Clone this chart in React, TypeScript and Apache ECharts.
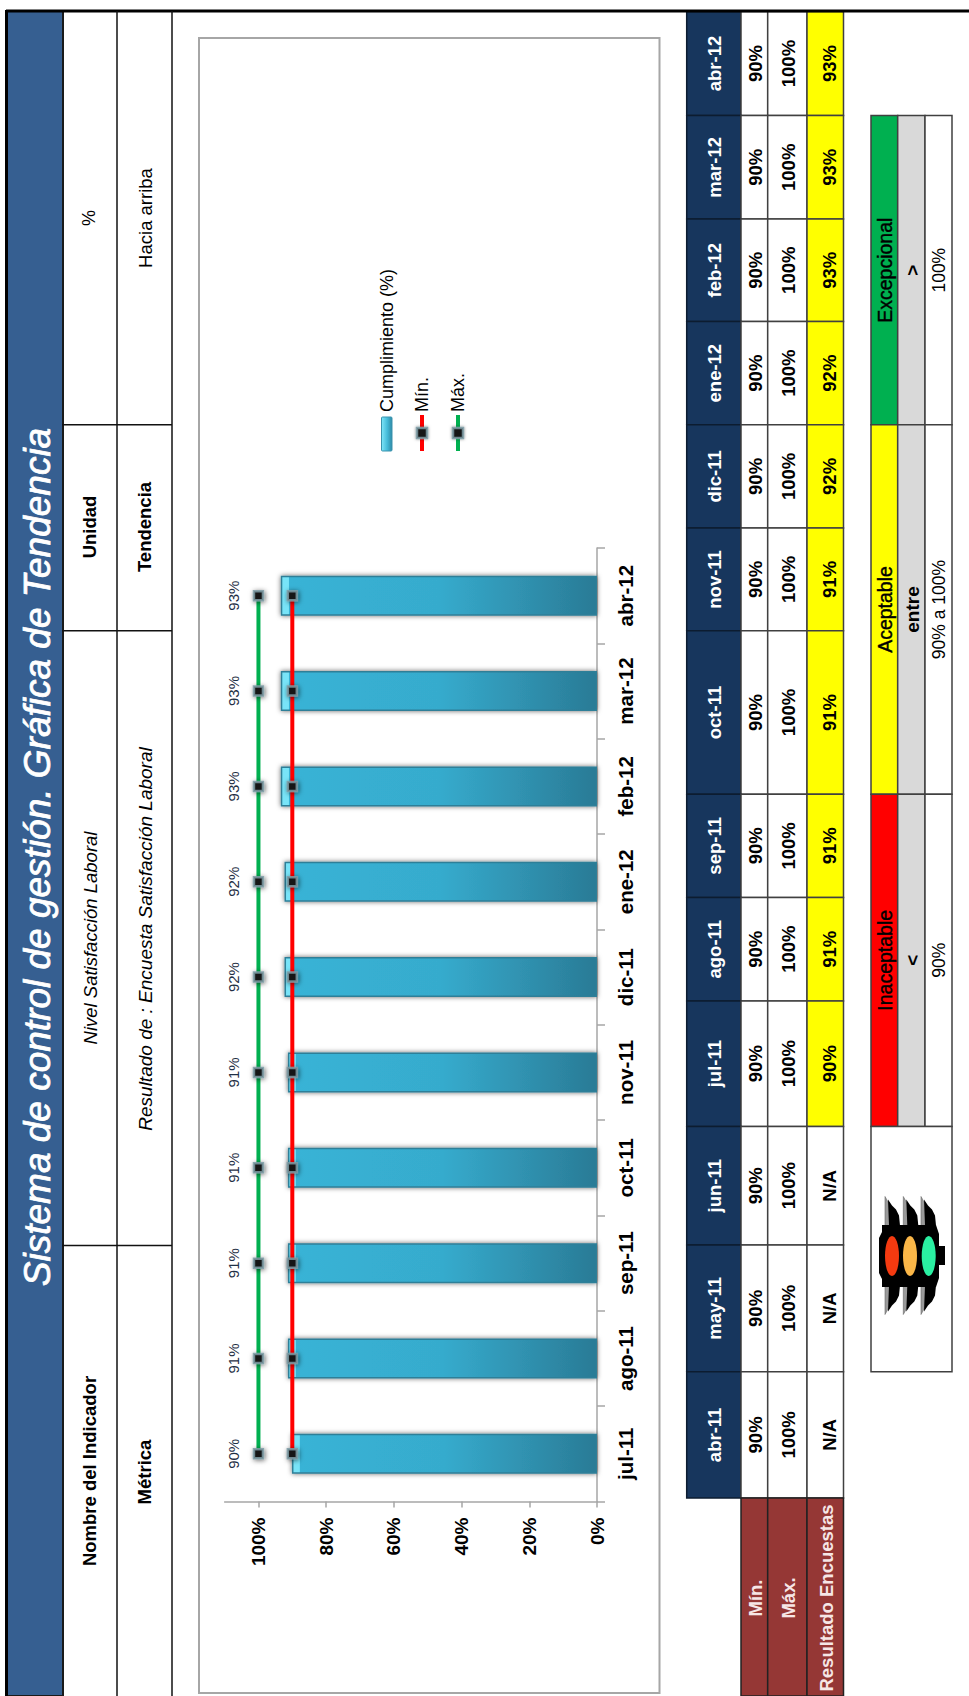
import React, { useEffect, useRef } from "react";
import * as echarts from "echarts";

const chartMonths = ["jul-11", "ago-11", "sep-11", "oct-11", "nov-11", "dic-11", "ene-12", "feb-12", "mar-12", "abr-12"];
const cumplimiento = [90.1, 91.3, 91.3, 91.3, 91.3, 92.3, 92.3, 93.4, 93.4, 93.4];
const minimo = [90, 90, 90, 90, 90, 90, 90, 90, 90, 90];
const maximo = [100, 100, 100, 100, 100, 100, 100, 100, 100, 100];
const valueTicks = [0, 20, 40, 60, 80, 100];

const tableMonths = ["abr-12", "mar-12", "feb-12", "ene-12", "dic-11", "nov-11", "oct-11", "sep-11", "ago-11", "jul-11", "jun-11", "may-11", "abr-11"];
const tableMin = ["90%", "90%", "90%", "90%", "90%", "90%", "90%", "90%", "90%", "90%", "90%", "90%", "90%"];
const tableMax = ["100%", "100%", "100%", "100%", "100%", "100%", "100%", "100%", "100%", "100%", "100%", "100%", "100%"];
const tableResult = ["93%", "93%", "93%", "92%", "92%", "91%", "91%", "91%", "91%", "90%", "N/A", "N/A", "N/A"];

const FONT = "'Liberation Sans', Arial, sans-serif";
const R = Math.PI / 2;

function txt(text: string, x: number, y: number, o: any = {}) {
  const color = o.color ?? "#000";
  return {
    type: "text", x, y, rotation: R, silent: true, z: o.z ?? 5,
    style: {
      text, fill: color, fontFamily: FONT, fontSize: o.size ?? 18.5,
      fontWeight: o.weight ?? "normal", fontStyle: o.style ?? "normal",
      align: o.align ?? "center", verticalAlign: "middle",
      stroke: o.heavy ? color : undefined, lineWidth: o.heavy ?? 0,
    },
  };
}
function box(x0: number, y0: number, x1: number, y1: number, fill: string, stroke = "#404040", lw = 1.5) {
  return {
    type: "rect", silent: true, z: 2,
    shape: { x: x0, y: y0, width: x1 - x0, height: y1 - y0 },
    style: { fill, stroke, lineWidth: lw },
  };
}
function seg(x0: number, y0: number, x1: number, y1: number, stroke = "#111", lw = 1.5) {
  return { type: "line", silent: true, z: 3, shape: { x1: x0, y1: y0, x2: x1, y2: y1 }, style: { stroke, lineWidth: lw } };
}

function buildGraphics() {
  const els: any[] = [];
  // Page frame and title band
  els.push(box(7, 11, 63, 1696, "#365F91", "#1a1a1a", 2));
  els.push(seg(6, 11, 969, 11, "#000", 3));
  els.push(seg(6.5, 10, 6.5, 1696, "#000", 3));
  els.push(seg(117, 11, 117, 1696));
  els.push(seg(172, 11, 172, 1696));
  [424.8, 630.8, 1245.5].forEach((y) => els.push(seg(62, y, 172, y)));
  els.push(txt("Sistema de control de gestión. Gráfica de Tendencia", 37, 857, { size: 37, style: "italic", color: "#fff", heavy: 0.8 }));

  els.push(txt("Nombre del Indicador", 89, 1471, { weight: "bold" }));
  els.push(txt("Métrica", 144, 1472, { weight: "bold" }));
  els.push(txt("Nivel Satisfacción Laboral", 90, 938, { style: "italic", size: 18.5 }));
  els.push(txt("Resultado de : Encuesta Satisfacción Laboral", 145, 939, { style: "italic", size: 19 }));
  els.push(txt("Unidad", 89, 527, { weight: "bold" }));
  els.push(txt("Tendencia", 144, 527, { weight: "bold" }));
  els.push(txt("%", 89, 218, { size: 18 }));
  els.push(txt("Hacia arriba", 145, 218, { size: 18.5 }));

  // Chart frame
  els.push({ type: "rect", silent: true, z: 1, shape: { x: 199, y: 38, width: 460.5, height: 1655 }, style: { fill: "none", stroke: "#A6A6A6", lineWidth: 2 } });

  // Legend
  els.push({
    type: "rect", silent: true, z: 5, shape: { x: 381.5, y: 417, width: 10.5, height: 34, r: 1 },
    style: {
      fill: new echarts.graphic.LinearGradient(0, 0, 1, 0, [
        { offset: 0, color: "#7FE6F8" }, { offset: 0.55, color: "#45BBD9" }, { offset: 1, color: "#2F8AA6" },
      ]),
      stroke: "#3A93AE", lineWidth: 1,
    },
  });
  els.push(txt("Cumplimiento (%)", 387, 412, { align: "left", size: 18 }));
  [[422, "Mín.", "#FF0000"], [458, "Máx.", "#00B050"]].forEach(([x, label, color]: any) => {
    els.push(seg(x, 415, x, 451, color, 4));
    els.push({
      type: "rect", silent: true, z: 6, shape: { x: x - 5, y: 428, width: 10, height: 10 },
      style: { fill: "#161616", stroke: "rgba(125,155,165,0.85)", lineWidth: 2.5, shadowBlur: 3, shadowColor: "rgba(0,0,0,0.5)" },
    });
    els.push(txt(label, x, 412, { align: "left", size: 18 }));
  });

  // Monthly table
  const yEdges = [11.5, 115.6, 219, 321.5, 424.8, 528, 630.8, 794.2, 897.5, 1000.9, 1126.4, 1245, 1371.8, 1498];
  const xHead = [686.7, 741], xMin = [741, 767.7], xMax = [767.7, 807], xRes = [807, 843.5];
  tableMonths.forEach((m, i) => {
    const y0 = yEdges[i], y1 = yEdges[i + 1], yc = (y0 + y1) / 2;
    const yellow = tableResult[i] !== "N/A";
    els.push(box(xHead[0], y0, xHead[1], y1, "#17365D", "#0c1c30"));
    els.push(box(xMin[0], y0, xMin[1], y1, "#fff"));
    els.push(box(xMax[0], y0, xMax[1], y1, "#fff"));
    els.push(box(xRes[0], y0, xRes[1], y1, yellow ? "#FFFF00" : "#fff"));
    els.push(txt(m, 714, yc, { color: "#fff", weight: "bold", size: 18.5 }));
    els.push(txt(tableMin[i], 755, yc, { weight: "bold" }));
    els.push(txt(tableMax[i], 788, yc, { weight: "bold" }));
    els.push(txt(tableResult[i], 829, yc, { weight: "bold" }));
  });
  els.push(box(xMin[0], 1498, xMin[1], 1696, "#953735", "#222"));
  els.push(box(xMax[0], 1498, xMax[1], 1696, "#953735", "#222"));
  els.push(box(xRes[0], 1498, xRes[1], 1696, "#953735", "#222"));
  els.push(txt("Mín.", 755, 1598, { color: "#F6E6E6", weight: "bold" }));
  els.push(txt("Máx.", 788, 1598, { color: "#F6E6E6", weight: "bold" }));
  els.push(txt("Resultado Encuestas", 826, 1598, { color: "#F6E6E6", weight: "bold" }));

  // Threshold table
  const lx = [871, 897.7, 925, 952];
  const thresholds: [number, number, string, string, string, string][] = [
    [115.6, 424.8, "#00B050", "Excepcional", ">", "100%"],
    [424.8, 794.2, "#FFFF00", "Aceptable", "entre", "90% a 100%"],
    [794.2, 1126.4, "#FF0000", "Inaceptable", "<", "90%"],
  ];
  thresholds.forEach(([y0, y1, fill, name, op, range]) => {
    const yc = (y0 + y1) / 2;
    els.push(box(lx[0], y0, lx[1], y1, fill));
    els.push(box(lx[1], y0, lx[2], y1, "#D9D9D9"));
    els.push(box(lx[2], y0, lx[3], y1, "#fff"));
    els.push(txt(name, 885, yc, { size: 19.5, heavy: 0.4 }));
    els.push(txt(op, 912, yc, { weight: "bold", size: 19 }));
    els.push(txt(range, 939, yc, { size: 17.5 }));
  });
  els.push(box(lx[0], 1126.4, lx[3], 1371.8, "#fff"));

  // Traffic light
  const fillBlack = { fill: "#000" };
  [885, 903.3, 921].forEach((cx) => {
    [1, -1].forEach((dir) => {
      const my = (d: number) => 1255.5 - dir * d;
      els.push({ type: "polygon", silent: true, z: 4, shape: { points: [[cx, my(59)], [cx + 5, my(50)], [cx + 5, my(30)], [cx, my(30)]] }, style: { fill: "#9a9a9a", stroke: "#666", lineWidth: 0.6 } });
      els.push({ type: "polygon", silent: true, z: 4, shape: { points: [[cx + 3, my(56)], [cx + 7, my(50)], [cx + 11, my(46)], [cx + 14, my(40)], [cx + 15, my(30)], [cx + 4, my(30)]] }, style: fillBlack });
    });
  });
  els.push({ type: "polygon", silent: true, z: 4, shape: { points: [[879, 1238], [882, 1232], [882, 1225], [936, 1225], [939, 1234], [939, 1246], [945, 1246], [945, 1265], [939, 1265], [939, 1278], [936, 1287], [882, 1287], [882, 1279], [879, 1273]] }, style: fillBlack });
  [[892, "#F53A10"], [910, "#FBB748"], [928.7, "#2AF0A2"]].forEach(([cx, color]: any) => {
    els.push({ type: "ellipse", silent: true, z: 5, shape: { cx, cy: 1256, rx: 7, ry: 20 }, style: { fill: color } });
  });
  return els;
}

export default function App() {
  const ref = useRef<HTMLDivElement>(null);
  useEffect(() => {
    const chart = echarts.init(ref.current!, undefined, { renderer: "svg" });
    const marker = {
      color: "#161616", borderColor: "rgba(125,155,165,0.85)", borderWidth: 2.5,
      shadowBlur: 5, shadowColor: "rgba(0,0,0,0.6)", shadowOffsetX: 1, shadowOffsetY: 1,
    };
    chart.setOption({
      animation: false,
      backgroundColor: "#fff",
      textStyle: { fontFamily: FONT },
      grid: { left: 224.6, right: 969 - 597, top: 548, height: 953.5, containLabel: false },
      xAxis: {
        type: "value", inverse: true, min: 0, max: 110,
        splitLine: { show: false },
        axisLine: { show: true, lineStyle: { color: "#A6A6A6", width: 1.5 } },
        axisTick: { show: true, length: 6, customValues: valueTicks, lineStyle: { color: "#A6A6A6", width: 1.5 } },
        axisLabel: {
          customValues: valueTicks, rotate: 90, margin: 16, formatter: "{value}%",
          color: "#000", fontWeight: "bold", fontSize: 19, fontFamily: FONT,
        },
      },
      yAxis: {
        type: "category", position: "right", data: chartMonths,
        axisLine: { show: true, lineStyle: { color: "#A6A6A6", width: 1.5 } },
        axisTick: { show: true, length: 8, lineStyle: { color: "#A6A6A6", width: 1.5 } },
        axisLabel: { rotate: 90, margin: 18, color: "#000", fontWeight: "bold", fontSize: 20.5, fontFamily: FONT, interval: 0 },
      },
      series: [
        {
          name: "Cumplimiento (%)", type: "bar", data: cumplimiento, barWidth: 40, z: 2,
          itemStyle: {
            color: new echarts.graphic.LinearGradient(0, 0, 1, 0, [
              { offset: 0, color: "#78E4F8" }, { offset: 0.022, color: "#78E4F8" },
              { offset: 0.024, color: "#38B3D6" }, { offset: 0.5, color: "#36ABCD" },
              { offset: 1, color: "#2A7B96" },
            ]),
            borderColor: "#2F7F98", borderWidth: 1.5,
            shadowBlur: 5, shadowColor: "rgba(0,0,0,0.6)",
          },
        },
        {
          name: "Mín.", type: "line", data: minimo, z: 4, symbol: "rect", symbolSize: 9,
          lineStyle: { color: "#FF0000", width: 4 }, itemStyle: marker,
        },
        {
          name: "Máx.", type: "line", data: maximo, z: 3, symbol: "rect", symbolSize: 9,
          lineStyle: { color: "#00B050", width: 4 }, itemStyle: marker,
          label: {
            show: true, position: "left", distance: 23, rotate: 90, align: "center", verticalAlign: "middle",
            offset: [0, 4], fontSize: 15, color: "#1F2F45", fontFamily: FONT,
            formatter: (p: any) => `${Math.round(cumplimiento[p.dataIndex])}%`,
          },
        },
      ],
      graphic: { elements: buildGraphics() },
    });
    return () => chart.dispose();
  }, []);
  return <div ref={ref} style={{ position: "absolute", left: 0, top: 0, width: 969, height: 1696 }} />;
}
